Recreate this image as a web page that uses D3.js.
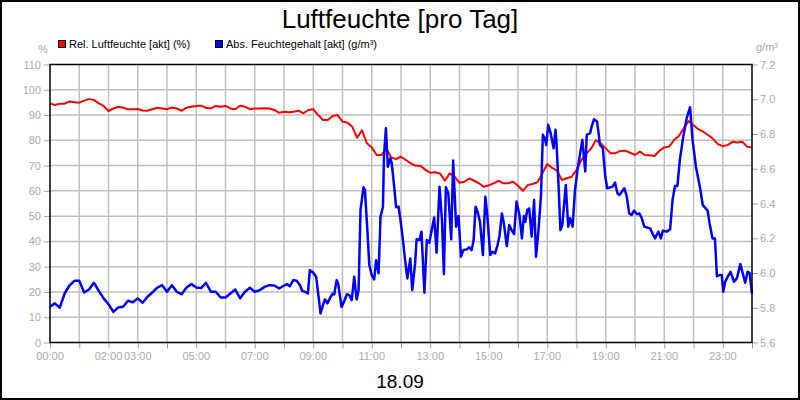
<!DOCTYPE html>
<html>
<head>
<meta charset="utf-8">
<script src="https://cdn.jsdelivr.net/npm/d3@7"></script>
<style>
  html, body { margin: 0; padding: 0; background: #fff; }
  svg { display: block; font-family: "Liberation Sans", Arial, sans-serif; }
</style>
</head>
<body>
<svg id="chart" width="800" height="400"></svg>
<script>
// ---------------- DATA ----------------
const title = "Luftfeuchte [pro Tag]";
const dateLabel = "18.09";
const seriesNames = ["Rel. Luftfeuchte [akt] (%)", "Abs. Feuchtegehalt [akt] (g/m³)"];
const leftUnit = "%";
const rightUnit = "g/m³";

const xTickHours = [0,1,2,3,4,5,6,7,8,9,10,11,12,13,14,15,16,17,18,19,20,21,22,23,24];
const xLabelHours = [0,2,3,5,7,9,11,13,15,17,19,21,23];
const xLabels = ["00:00","02:00","03:00","05:00","07:00","09:00","11:00","13:00","15:00","17:00","19:00","21:00","23:00"];
const leftTicks = [0,10,20,30,40,50,60,70,80,90,100,110];
const rightTicks = [5.6,5.8,6.0,6.2,6.4,6.6,6.8,7.0,7.2];

// relative humidity, every 10 minutes from 00:00 to 24:00 (%)
const redStepMinutes = 10;
const redValues = [
 94.6,94.0,94.5,94.5,95.4,95.1,94.9,95.7,96.3,96.0,94.6,93.6,
 91.6,92.6,93.3,92.9,92.3,92.3,92.4,91.8,91.7,92.3,92.9,92.6,
 92.3,93.0,92.6,91.7,92.9,93.3,93.6,93.7,92.9,92.6,93.6,93.3,
 93.6,92.6,92.3,93.7,93.3,92.3,92.6,92.6,92.7,92.6,92.0,90.9,
 91.3,91.1,91.3,91.7,90.7,92.0,92.3,90.0,88.0,88.0,89.6,90.0,
 87.4,87.0,85.4,81.0,84.0,78.8,77.2,74.2,74.2,76.8,73.2,72.6,
 73.5,72.2,70.9,69.9,69.9,68.3,67.2,67.4,66.9,64.0,66.9,65.6,
 63.2,63.6,64.9,64.0,63.0,61.6,62.2,63.0,64.0,63.0,63.0,63.6,
 62.0,60.0,62.3,62.7,63.4,66.9,70.6,69.1,68.0,64.3,65.0,65.6,
 68.3,72.2,74.6,76.8,80.1,78.8,76.8,74.9,74.9,75.8,75.9,75.1,
 74.2,75.5,74.2,74.1,73.8,75.8,77.2,77.5,80.1,81.7,84.8,87.6,
 86.0,84.4,83.4,82.1,80.6,78.5,77.7,78.1,79.4,79.1,79.4,77.5,
 77.2
];

// absolute humidity (g/m³): sample time in minutes after midnight, and value
const blueTimes = [
 0,10,20,30,40,50,60,70,80,90,100,110,120,130,140,150,160,170,180,190,200,210,220,230,
 240,250,260,270,280,290,300,310,320,330,340,350,360,370,380,390,400,410,420,430,440,450,460,470,480,
 486,492,499,506,513,517,523,529,533,540,546,551,555,561,564,569,574,580,583,588,591,598,603,609,
 614,619,624,629,633,637,643,646,651,655,660,665,669,674,678,683,685,689,693,698,701,706,710,715,
 719,724,728,733,739,743,749,752,758,762,768,773,778,783,788,793,799,804,808,812,817,823,827,833,
 838,843,848,855,860,865,869,873,877,882,888,893,897,903,908,913,918,922,927,931,937,942,947,952,
 957,963,968,972,975,979,983,988,993,997,1002,1007,1011,1015,1018,1022,1027,1033,1037,1039,1043,1047,1051,1053,
 1058,1063,1067,1072,1077,1082,1087,1092,1098,1101,1108,1111,1116,1122,1125,1128,1134,1139,1143,1149,1154,1159,1164,1168,
 1173,1178,1183,1188,1193,1198,1204,1209,1214,1219,1231,1241,1248,1253,1257,1265,1272,1277,1282,1287,1292,1299,1306,1313,
 1318,1325,1333,1339,1349,1353,1359,1364,1368,1374,1378,1381,1385,1390,1396,1403,1409,1416,1421,1426,1431,1435,1440
];
const blueValues = [
 5.806,5.825,5.800,5.882,5.928,5.955,5.955,5.888,5.905,5.944,5.897,5.854,5.821,5.776,5.802,5.806,5.840,5.832,5.854,5.829,5.863,5.888,5.915,5.930,
 5.892,5.930,5.892,5.878,5.917,5.936,5.917,5.913,5.944,5.892,5.892,5.859,5.859,5.882,5.905,5.854,5.892,5.915,5.892,5.901,5.920,5.930,5.928,5.911,5.928,
 5.936,5.924,5.959,5.955,5.930,5.897,5.892,5.882,6.017,6.001,5.978,5.863,5.767,5.825,5.848,5.825,5.854,5.882,5.877,5.959,5.940,5.805,5.834,5.878,
 5.873,5.844,5.978,5.848,5.901,6.363,6.493,6.478,6.247,6.046,5.988,5.963,6.074,5.998,6.324,6.382,6.670,6.833,6.612,6.660,6.632,6.497,6.378,6.382,
 6.305,6.190,6.084,5.969,6.084,5.902,6.055,6.194,6.190,6.238,5.886,6.190,6.174,6.247,6.320,6.117,6.497,6.305,5.994,6.493,6.459,6.194,6.647,6.267,
 6.328,6.094,6.132,6.136,6.148,6.132,6.190,6.382,6.353,6.295,6.103,6.439,6.334,6.103,6.122,6.113,6.161,6.213,6.343,6.286,6.155,6.276,6.247,6.224,
 6.411,6.334,6.199,6.328,6.295,6.363,6.372,6.209,6.420,6.094,6.247,6.439,6.795,6.776,6.737,6.853,6.804,6.718,6.824,6.747,6.516,6.247,6.276,6.343,
 6.507,6.267,6.315,6.267,6.478,6.593,6.680,6.766,6.584,6.795,6.805,6.843,6.885,6.872,6.814,6.737,6.718,6.555,6.488,6.493,6.497,6.520,6.459,6.449,
 6.468,6.488,6.443,6.343,6.334,6.359,6.339,6.343,6.315,6.267,6.257,6.199,6.238,6.199,6.243,6.238,6.251,6.420,6.501,6.501,6.651,6.785,6.891,6.954,
 6.766,6.612,6.497,6.391,6.359,6.286,6.199,6.199,5.982,5.988,5.988,5.892,5.950,5.978,6.007,5.950,5.969,6.051,5.998,5.944,6.007,6.001,5.882
];

// ---------------- CHART ----------------
const W = 800, H = 400;
const plot = { left: 50, right: 752, top: 64.5, bottom: 342.5 };
const gridColor = "#c0c0c0";
const labelColor = "#aaaaaa";

const svg = d3.select("#chart");

const x = d3.scaleLinear().domain([0, 1440]).range([plot.left, plot.right]);
const yL = d3.scaleLinear().domain([0, 110]).range([plot.bottom, plot.top]);
const yR = d3.scaleLinear().domain([5.6, 7.2]).range([plot.bottom, plot.top]);

// white background + outer border
svg.append("rect").attr("x", 1).attr("y", 1).attr("width", W - 2).attr("height", H - 2)
  .attr("fill", "#fff").attr("stroke", "#000").attr("stroke-width", 2);

// grid
const grid = svg.append("g");
grid.selectAll("line.v").data(xTickHours.slice(1, -1)).join("line")
  .attr("x1", d => x(d * 60)).attr("x2", d => x(d * 60))
  .attr("y1", plot.top).attr("y2", plot.bottom)
  .attr("stroke", gridColor).attr("stroke-width", 1.5);
grid.selectAll("line.h").data(leftTicks.slice(1, -1)).join("line")
  .attr("x1", plot.left).attr("x2", plot.right)
  .attr("y1", d => yL(d)).attr("y2", d => yL(d))
  .attr("stroke", gridColor).attr("stroke-width", 1.5);

// axes
function styleAxis(g) {
  g.select(".domain").remove();
  g.selectAll(".tick line").attr("stroke", "#a0a0a0");
  g.selectAll(".tick text").attr("fill", labelColor).attr("font-size", 11)
    .attr("font-family", "'Liberation Sans', Arial, sans-serif");
}

svg.append("g").attr("transform", `translate(${plot.left},0)`)
  .call(d3.axisLeft(yL).tickValues(leftTicks).tickSize(6).tickPadding(3).tickFormat(d3.format("d")))
  .call(styleAxis);

svg.append("g").attr("transform", `translate(${plot.right},0)`)
  .call(d3.axisRight(yR).tickValues(rightTicks).tickSize(6).tickPadding(2).tickFormat(d3.format(".1f")))
  .call(styleAxis);

const xAxisG = svg.append("g").attr("transform", `translate(0,${plot.bottom})`)
  .call(d3.axisBottom(x).tickValues(xTickHours.map(h => h * 60)).tickSize(6).tickFormat(""))
  .call(styleAxis);

svg.append("g").selectAll("text").data(xLabelHours).join("text")
  .attr("x", d => x(d * 60)).attr("y", plot.bottom + 17)
  .attr("text-anchor", "middle").attr("fill", labelColor).attr("font-size", 11)
  .text((d, i) => xLabels[i]);

// lines
const redData = redValues.map((v, i) => ({ t: i * redStepMinutes, v }));
const blueData = blueTimes.map((t, i) => ({ t, v: blueValues[i] }));

svg.append("path").datum(redData)
  .attr("fill", "none").attr("stroke", "#ff0000").attr("stroke-width", 2)
  .attr("stroke-linejoin", "round")
  .attr("d", d3.line().x(d => x(d.t)).y(d => yL(d.v)));

svg.append("path").datum(blueData)
  .attr("fill", "none").attr("stroke", "#0000ff").attr("stroke-width", 2.5)
  .attr("stroke-linejoin", "round")
  .attr("d", d3.line().x(d => x(d.t)).y(d => yR(d.v)));

// plot frame
svg.append("rect").attr("x", plot.left).attr("y", plot.top)
  .attr("width", plot.right - plot.left).attr("height", plot.bottom - plot.top)
  .attr("fill", "none").attr("stroke", "#000").attr("stroke-width", 1.5);

// title and date
svg.append("text").attr("x", 400).attr("y", 28).attr("text-anchor", "middle")
  .attr("font-size", 26).attr("fill", "#000").text(title);
svg.append("text").attr("x", 400).attr("y", 388).attr("text-anchor", "middle")
  .attr("font-size", 19).attr("fill", "#000").text(dateLabel);

// unit labels
svg.append("text").attr("x", 43).attr("y", 53).attr("text-anchor", "middle")
  .attr("font-size", 11).attr("fill", labelColor).text(leftUnit);
svg.append("text").attr("x", 756).attr("y", 51).attr("text-anchor", "start")
  .attr("font-size", 11).attr("fill", labelColor).text(rightUnit);

// legend
const legendX = [58, 215];
const legendColors = ["#ff0000", "#0000ff"];
const lg = svg.append("g");
seriesNames.forEach((name, i) => {
  lg.append("rect").attr("x", legendX[i] + 0.5).attr("y", 40.5).attr("width", 7).attr("height", 7)
    .attr("fill", legendColors[i]).attr("stroke", "#000").attr("stroke-width", 1);
  lg.append("text").attr("x", legendX[i] + 11).attr("y", 48)
    .attr("font-size", 11).attr("fill", "#000").text(name);
});
</script>
</body>
</html>
